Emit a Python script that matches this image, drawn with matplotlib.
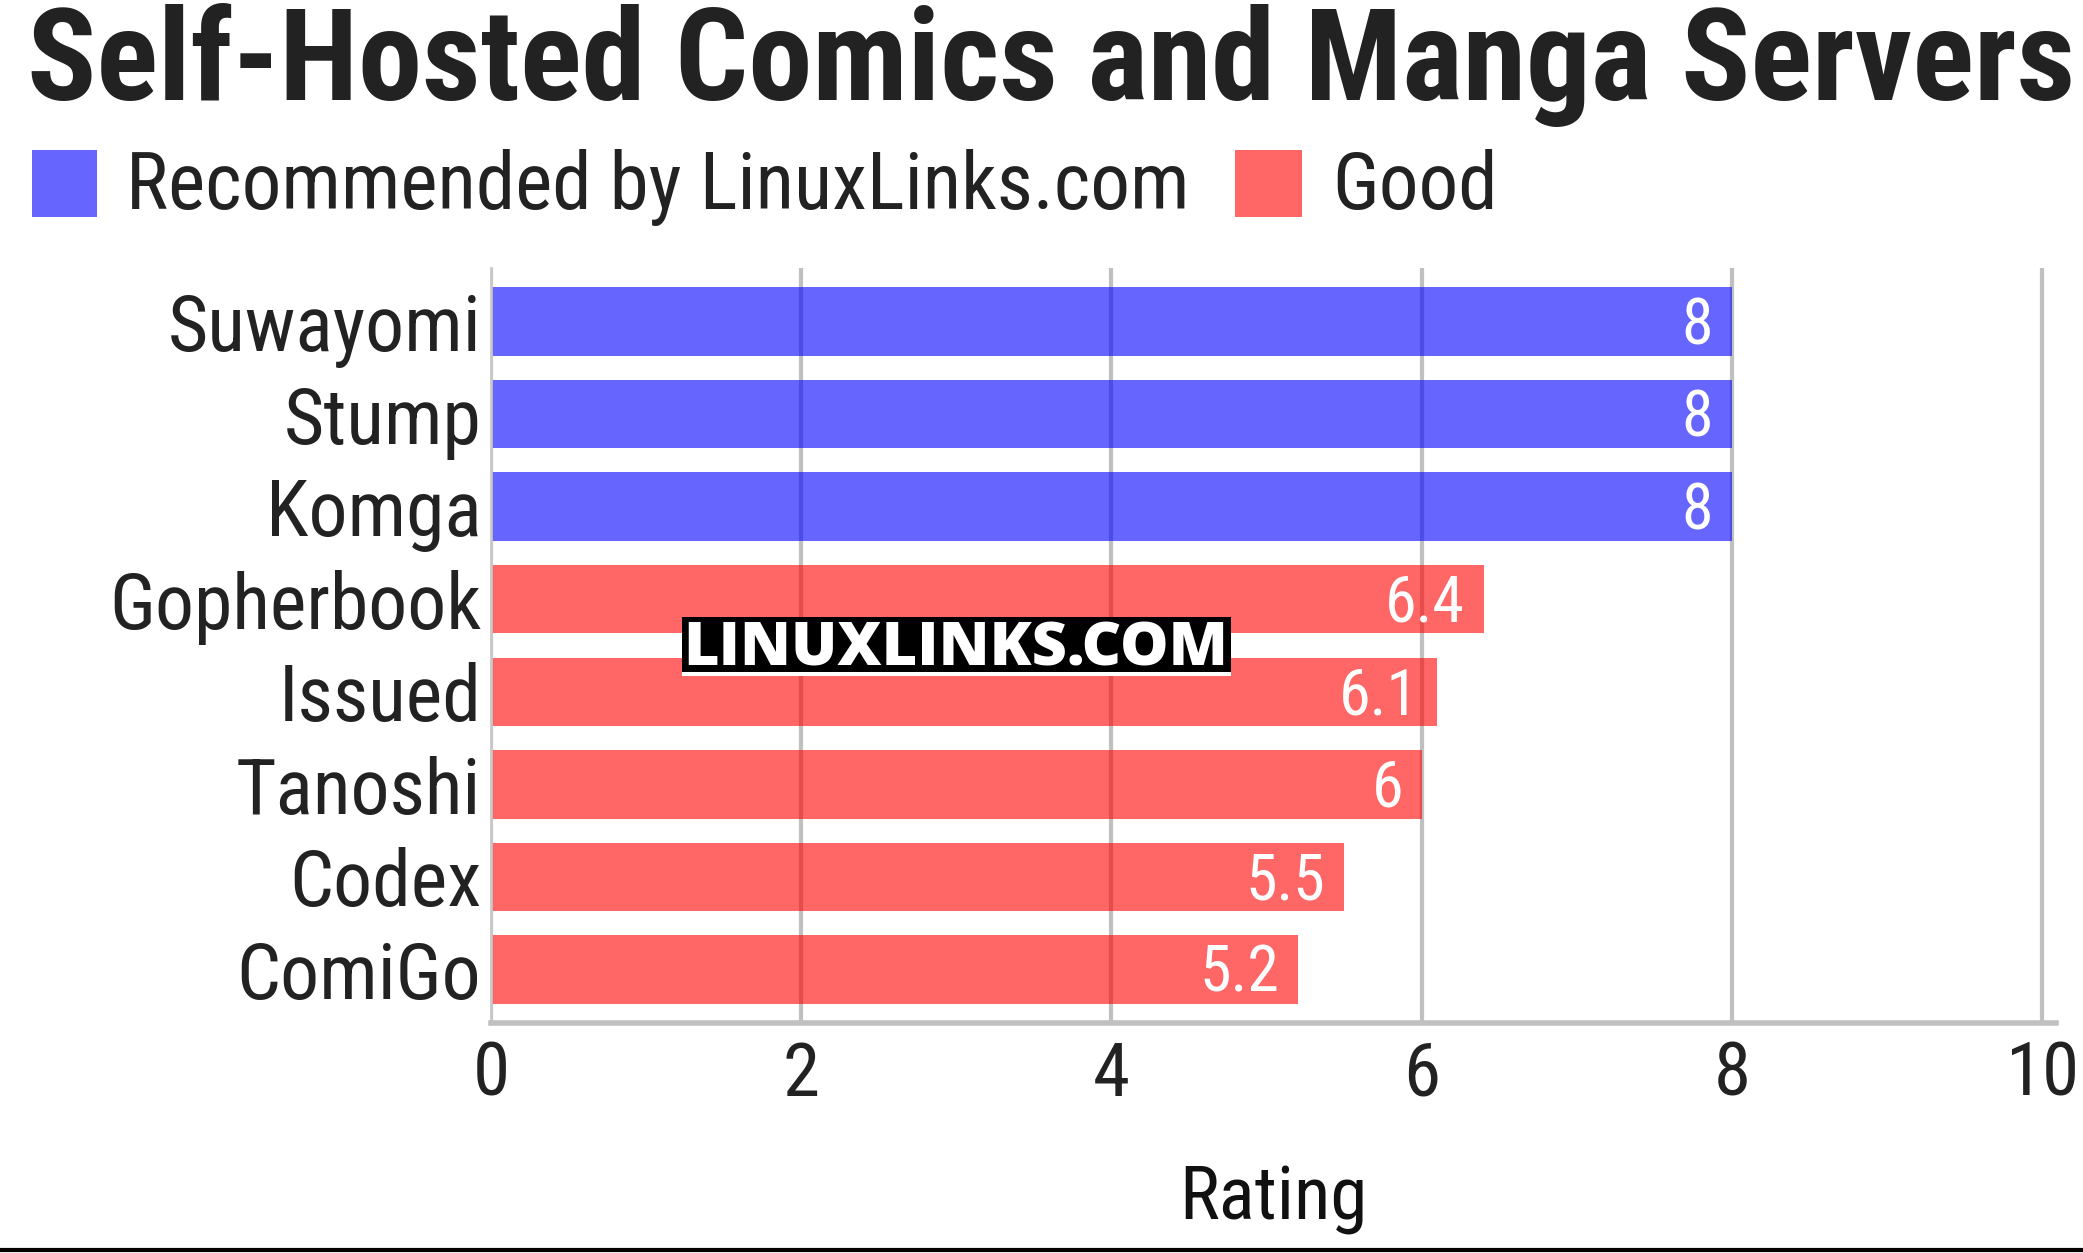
import matplotlib
matplotlib.use("Agg")
import matplotlib.pyplot as plt
from matplotlib import font_manager
from matplotlib.patches import Rectangle

names = ["Suwayomi", "Stump", "Komga", "Gopherbook", "Issued", "Tanoshi", "Codex", "ComiGo"]
ratings = [8, 8, 8, 6.4, 6.1, 6, 5.5, 5.2]
groups = ["rec", "rec", "rec", "good", "good", "good", "good", "good"]
legend_labels = ["Recommended by LinuxLinks.com", "Good"]
xticks = [0, 2, 4, 6, 8, 10]

avail = {f.name for f in font_manager.fontManager.ttflist}
cond = "Roboto Condensed" in avail
fam = ["Roboto Condensed", "Roboto", "DejaVu Sans"] if cond else ["Roboto", "DejaVu Sans"]
plt.rcParams["font.family"] = fam
k = 1.0 if cond else 0.82  # shrink sizes if condensed face missing

W, H = 2083, 1253
fig = plt.figure(figsize=(W / 100, H / 100), dpi=100)
ax = fig.add_axes([491 / W, 1 - 1023 / H, 1565 / W, 755 / H])

colors = {"rec": (0, 0, 1, 0.6), "good": (1, 0, 0, 0.6)}
ypos = list(range(len(names)))
ax.barh(ypos, ratings, height=0.74, color=[colors[g] for g in groups], zorder=2)
for y, v in zip(ypos, ratings):
    ax.text(v - 0.12, y + 0.05, f"{v:g}", ha="right", va="center", color="white",
            fontsize=46 * k, zorder=3)

ax.set_xlim(0, 10.09)
ax.set_ylim(len(names) - 0.42, -0.58)
ax.set_yticks(ypos)
ax.set_yticklabels(names, fontsize=56 * k, color="#222222")
ax.set_xticks(xticks)
ax.set_xticklabels([str(t) for t in xticks], fontsize=54 * k, color="#222222")
ax.tick_params(axis="both", length=0)
ax.tick_params(axis="y", pad=7)
ax.tick_params(axis="x", pad=12)
ax.grid(axis="x", color="#c0c0c0", linewidth=3, zorder=0)
ax.set_axisbelow(True)
for s in ["top", "right"]:
    ax.spines[s].set_visible(False)
ax.spines["left"].set_color("#c8c8c8")
ax.spines["left"].set_linewidth(2)
ax.spines["bottom"].set_color("#c0c0c0")
ax.spines["bottom"].set_linewidth(4)
ax.set_xlabel("Rating", fontsize=54 * k, color="#111111", labelpad=38)

# title and legend
fig.text(27 / W, 1 - 100 / H, "Self-Hosted Comics and Manga Servers", fontsize=92.5 * k,
         fontweight="bold", color="#222222", ha="left", va="baseline")
fig.patches.append(Rectangle((32 / W, 1 - 217 / H), 65 / W, 67 / H, transform=fig.transFigure,
                             facecolor=(0, 0, 1, 0.6), edgecolor="none"))
fig.text(126 / W, 1 - 187 / H, legend_labels[0], fontsize=57 * k, color="#222222",
         ha="left", va="center")
fig.patches.append(Rectangle((1235 / W, 1 - 217 / H), 67 / W, 67 / H, transform=fig.transFigure,
                             facecolor=(1, 0, 0, 0.6), edgecolor="none"))
fig.text(1332 / W, 1 - 187 / H, legend_labels[1], fontsize=57 * k, color="#222222",
         ha="left", va="center")

# watermark
fig.patches.append(Rectangle((682 / W, 1 - 672 / H), 549 / W, 55 / H, transform=fig.transFigure,
                             facecolor="black", edgecolor="none", zorder=5))
fig.patches.append(Rectangle((682 / W, 1 - 676 / H), 549 / W, 4 / H, transform=fig.transFigure,
                             facecolor="white", edgecolor="none", zorder=5))
fig.text(956 / W, 1 - 665 / H, "LINUXLINKS.COM", fontsize=44, fontweight="heavy", color="white",
         family=["Open Sans", "DejaVu Sans"], ha="center", va="baseline", zorder=6)

# bottom rule
fig.add_artist(plt.Line2D([0, 1], [1 - 1250 / H, 1 - 1250 / H], transform=fig.transFigure,
                          color="black", linewidth=3))

fig.savefig("out.png", dpi=100)
